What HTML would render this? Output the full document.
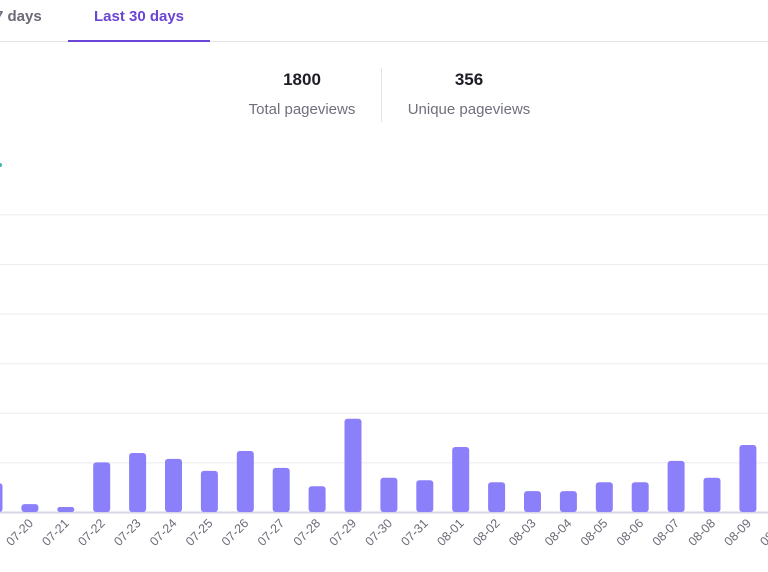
<!DOCTYPE html>
<html><head><meta charset="utf-8"><style>
body{margin:0;width:768px;height:572px;overflow:hidden;background:#fff;font-family:"Liberation Sans",sans-serif;position:relative}
.abs{position:absolute}
</style></head><body>
<div class="abs" style="left:0;top:0;width:66px;height:40px;overflow:hidden">
<div class="abs" style="left:-40px;top:8px;white-space:nowrap;font-size:15px;font-weight:bold;color:#6b6b78">Last 7 days</div>
</div>
<div class="abs" style="left:68px;top:8px;width:142px;text-align:center;font-size:15px;font-weight:bold;color:#6a45d6">Last 30 days</div>
<div class="abs" style="left:0;top:41px;width:768px;height:1px;background:#e2e2e8"></div>
<div class="abs" style="left:68px;top:40px;width:142px;height:2px;background:#6a45d6"></div>
<div class="abs" style="left:242px;top:70px;width:120px;text-align:center;font-size:17px;font-weight:bold;color:#1d1d26">1800</div>
<div class="abs" style="left:232px;top:101px;width:140px;text-align:center;font-size:15px;color:#70707c">Total pageviews</div>
<div class="abs" style="left:381px;top:68px;width:1px;height:54px;background:#e2e2e8"></div>
<div class="abs" style="left:409px;top:70px;width:120px;text-align:center;font-size:17px;font-weight:bold;color:#1d1d26">356</div>
<div class="abs" style="left:394px;top:101px;width:150px;text-align:center;font-size:15px;color:#70707c">Unique pageviews</div>
<div class="abs" style="left:0;top:163px;width:2px;height:4px;border-radius:0 2px 2px 0;background:#3cb8a8"></div>
<svg id="chart" class="abs" style="left:0;top:0" width="768" height="572"></svg>
<script>
const categories=["07-19","07-20","07-21","07-22","07-23","07-24","07-25","07-26","07-27","07-28","07-29","07-30","07-31","08-01","08-02","08-03","08-04","08-05","08-06","08-07","08-08","08-09","08-10"];
const values=[5.8,1.6,1,10,11.9,10.7,8.3,12.3,8.9,5.2,18.8,6.9,6.4,13.1,6,4.2,4.2,6,6,10.3,6.9,13.5,8];
const gridTicks=[0,10,20,30,40,50,60];
const svg=document.getElementById('chart');
const NS='http://www.w3.org/2000/svg';
const base=512, unit=4.96, x0=-6, step=35.9, bw=17;
const y=v=>base-v*unit;
const x=i=>x0+i*step;
gridTicks.forEach(t=>{
  const l=document.createElementNS(NS,'line');
  
  
  l.setAttribute('x1',0);l.setAttribute('x2',768);
  l.setAttribute('y1',y(t)+0.5);l.setAttribute('y2',y(t)+0.5);
  l.setAttribute('stroke',t===0?'#d6d6e4':'#ebebf0');l.setAttribute('stroke-width',t===0?2:1);
  svg.appendChild(l);
});
categories.forEach((c,i)=>{
  const h=values[i]*unit;
  const r=document.createElementNS(NS,'rect');
  
  
  r.setAttribute('x',x(i)-bw/2);r.setAttribute('y',y(values[i]));
  r.setAttribute('width',bw);r.setAttribute('height',h);
  r.setAttribute('rx',Math.min(3,h/2));r.setAttribute('fill','#8b7ffa');
  svg.appendChild(r);
  const t=document.createElementNS(NS,'text');
  
  
  t.setAttribute('text-anchor','end');
  t.setAttribute('font-size','12.5');t.setAttribute('fill','#6b6b78');
  t.setAttribute('transform','translate('+(x(i)+4)+',524) rotate(-45)');
  t.textContent=c;
  svg.appendChild(t);
});
</script>
</body></html>
